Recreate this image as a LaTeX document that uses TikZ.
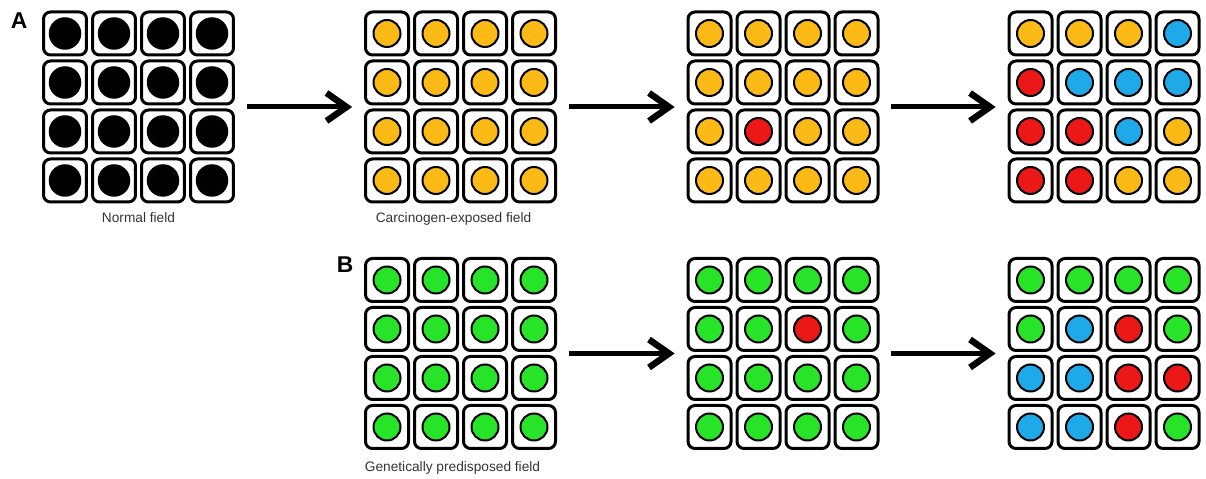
\documentclass[tikz,border=0pt]{standalone}
\usepackage{fontspec}
\setsansfont{Liberation Sans}
\usetikzlibrary{arrows.meta,positioning}
\definecolor{nucGold}{RGB}{252,186,22}
\definecolor{nucRed}{RGB}{236,24,24}
\definecolor{nucBlue}{RGB}{30,170,232}
\definecolor{nucGreen}{RGB}{40,228,40}
\tikzset{%
  >={Straight Barb[length=4mm,width=5.6mm,line width=1.3mm]},
  % cells and nuclei
        cellbox/.style = {rectangle, rounded corners=1.4mm, draw=black,
                          line width=0.6mm, fill=white, minimum size=8.6mm,
                          inner sep=0pt},
        nucleus/.style = {circle, draw=black, line width=0.4mm,
                          minimum size=5.4mm, inner sep=0pt},
      big black/.style = {minimum size=6.1mm},
          field/.style = {rectangle, minimum size=39.2mm, inner sep=0pt},
     fieldarrow/.style = {->, line width=1mm, shorten <=2mm, shorten >=2mm},
        caption/.style = {inner sep=0pt, text=black!80,
                          font=\sffamily\fontsize{7.8}{9}\selectfont},
          panel/.style = {inner sep=0pt,
                          font=\sffamily\bfseries\fontsize{13}{15}\selectfont},
                       }
% #1 name, #2 x, #3 y, #4 nucleus colours row by row
\newcommand{\cellfield}[4]{%
  \node[field] (#1) at (#2,#3) {};
  \foreach \nuc [count=\i from 0] in {#4} {
    \pgfmathtruncatemacro{\rowidx}{\i/4}
    \pgfmathtruncatemacro{\colidx}{mod(\i,4)}
    \node[cellbox] (#1-\rowidx\colidx) at (#2-73.5+\colidx*49, #3+73.5-\rowidx*49) {};
    \node[nucleus, fill=\nuc, big \nuc/.try] (#1-n\rowidx\colidx) at (#1-\rowidx\colidx) {};
  }
}
\begin{document}
\begin{tikzpicture}[x=0.02cm, y=0.02cm]
  \useasboundingbox (0,0) rectangle (1206,479);
  % Row A: carcinogen exposure
  \cellfield{gA1}{138.5}{372}{black,black,black,black,black,black,black,black,
    black,black,black,black,black,black,black,black}
  \cellfield{gA2}{460.5}{372}{nucGold,nucGold,nucGold,nucGold,nucGold,nucGold,nucGold,nucGold,
    nucGold,nucGold,nucGold,nucGold,nucGold,nucGold,nucGold,nucGold}
  \cellfield{gA3}{783}{372}{nucGold,nucGold,nucGold,nucGold,nucGold,nucGold,nucGold,nucGold,
    nucGold,nucRed,nucGold,nucGold,nucGold,nucGold,nucGold,nucGold}
  \cellfield{gA4}{1104}{372}{nucGold,nucGold,nucGold,nucBlue,nucRed,nucBlue,nucBlue,nucBlue,
    nucRed,nucRed,nucBlue,nucGold,nucRed,nucRed,nucGold,nucGold}
  % Row B: genetic predisposition
  \cellfield{gB1}{460.5}{125.5}{nucGreen,nucGreen,nucGreen,nucGreen,nucGreen,nucGreen,nucGreen,nucGreen,
    nucGreen,nucGreen,nucGreen,nucGreen,nucGreen,nucGreen,nucGreen,nucGreen}
  \cellfield{gB2}{783}{125.5}{nucGreen,nucGreen,nucGreen,nucGreen,nucGreen,nucGreen,nucRed,nucGreen,
    nucGreen,nucGreen,nucGreen,nucGreen,nucGreen,nucGreen,nucGreen,nucGreen}
  \cellfield{gB3}{1104}{125.5}{nucGreen,nucGreen,nucGreen,nucGreen,nucGreen,nucBlue,nucRed,nucGreen,
    nucBlue,nucBlue,nucRed,nucRed,nucBlue,nucBlue,nucRed,nucGreen}

  % panel letters and captions
  \node (panelA) [panel] at (19,458) {A};
  \node (panelB) [panel] at (345,214) {B};
  \node (lblNormal) [caption, below=1.4mm of gA1] {Normal field};
  \node (lblCarc) [caption, below=1.4mm of gA2, xshift=-1.4mm] {Carcinogen-exposed field};
  \node (lblGenetic) [caption, below=1.8mm of gB1, xshift=-1.6mm] {Genetically predisposed field};

  % arrows between fields
  \draw[fieldarrow] (gA1) -- (gA2);
  \draw[fieldarrow] (gA2) -- (gA3);
  \draw[fieldarrow] (gA3) -- (gA4);
  \draw[fieldarrow] (gB1) -- (gB2);
  \draw[fieldarrow] (gB2) -- (gB3);
\end{tikzpicture}
\end{document}
